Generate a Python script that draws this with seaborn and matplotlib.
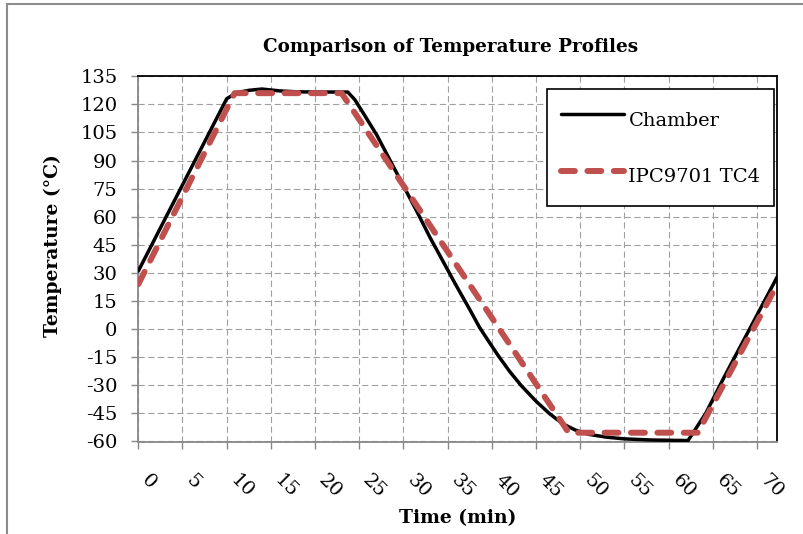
import matplotlib
matplotlib.use("Agg")
import matplotlib.pyplot as plt
import seaborn as sns
import pandas as pd
from matplotlib.patches import Rectangle

# ---- data ----
time_chamber = [0, 10, 11.1, 12.5, 14, 16, 18, 21, 23.7, 24.5, 25.5, 27, 28.5, 30, 31.5,
                33, 34.5, 36, 37.5, 38.6, 39.5, 40.7, 42, 43.3, 45, 46.5, 48, 49.5, 51,
                53, 55, 58, 62.2, 64.2, 66.3, 68.6, 72.3]
temp_chamber = [31, 123, 126.2, 127.5, 128.2, 127.2, 126.7, 126.6, 126.6, 122.5, 115,
                103.5, 90, 76.5, 63, 49, 36, 23, 10.5, 1, -5.5, -14, -22.5, -30, -38.5,
                -45, -50.5, -54, -56.2, -57.7, -58.6, -59.2, -59.5, -45, -25.5, -5, 28]
time_tc4 = [0, 10.9, 23.0, 48.7, 63.3, 72.3]
temp_tc4 = [24, 126, 126, -55.3, -55.3, 24]

series_names = ["Chamber", "IPC9701 TC4"]
x_ticks = list(range(0, 71, 5))
y_ticks = list(range(-60, 136, 15))

title = "Comparison of Temperature Profiles"
xlabel = "Time (min)"
ylabel = "Temperature (°C)"

sns.set_theme(style="white")
plt.rcParams['font.family'] = ['DejaVu Serif']
plt.rcParams['lines.scale_dashes'] = False
for key in ["text.color", "axes.labelcolor", "xtick.color", "ytick.color"]:
    plt.rcParams[key] = "black"

W, H = 804, 534
fig = plt.figure(figsize=(W / 100, H / 100), dpi=100)
ax = fig.add_axes([138.3 / W, 1 - 441.5 / H, (777.3 - 138.3) / W, (441.5 - 76.3) / H])

df_ch = pd.DataFrame({"t": time_chamber, "T": temp_chamber})
df_tc = pd.DataFrame({"t": time_tc4, "T": temp_tc4})

sns.lineplot(data=df_ch, x="t", y="T", ax=ax, color="black", linewidth=2.5,
             sort=False, estimator=None, label=series_names[0], zorder=3)
sns.lineplot(data=df_tc, x="t", y="T", ax=ax, color="#C0504D", linewidth=4.3,
             sort=False, estimator=None, label=series_names[1], zorder=4)
l_ch, l_tc = ax.get_lines()[0], ax.get_lines()[1]
l_ch.set_solid_capstyle("round")
l_ch.set_solid_joinstyle("round")
l_tc.set_dashes((10, 9))
l_tc.set_dash_capstyle("round")

ax.set_xlim(0, 72.3)
ax.set_ylim(-60, 135)
ax.set_xticks(x_ticks)
ax.set_yticks(y_ticks)
ax.set_xticklabels([str(v) for v in x_ticks], rotation=-45, ha="left", va="top",
                   fontsize=14)
ax.set_yticklabels([str(v) for v in y_ticks], fontsize=14)

ax.grid(True, color="#a0a0a0", linewidth=0.8, dashes=(4.5, 2.5))
ax.set_axisbelow(True)

ax.tick_params(axis="y", direction="out", length=5, width=1, color="#888888", pad=10,
               left=True, labelcolor="black")
ax.tick_params(axis="x", direction="out", length=5, width=1, color="#888888", pad=16,
               bottom=True, labelcolor="black")
for side in ["left", "bottom"]:
    ax.spines[side].set_color("#888888")
    ax.spines[side].set_linewidth(1.3)
for side in ["top", "right"]:
    ax.spines[side].set_color("black")
    ax.spines[side].set_linewidth(1.3)

ax.set_xlabel(xlabel, fontsize=13.5, fontweight="bold", color="black")
ax.set_ylabel(ylabel, fontsize=13.5, fontweight="bold", color="black")
ax.xaxis.set_label_coords(0.5, -0.186)
ax.yaxis.set_label_coords(-0.119, 0.537)

leg = ax.legend(loc="upper right", bbox_to_anchor=(0.9955, 0.9644), borderaxespad=0,
                fontsize=14, frameon=True, fancybox=False, framealpha=1,
                edgecolor="black", handlelength=3.2, handletextpad=0.25,
                handleheight=2.2, labelspacing=1.22, borderpad=0.72)
leg.get_frame().set_linewidth(1.2)
for t in leg.get_texts():
    t.set_color("black")

fig.text(451 / W, 1 - 47 / H, title, ha="center", va="center", fontsize=13.2,
         fontweight="bold", color="black")

fig.patches.append(Rectangle((7 / W, -0.05), 1.2, 1 - 4 / H + 0.05,
                             transform=fig.transFigure, fill=False,
                             edgecolor="#8c8c8c", linewidth=1.5, zorder=0))

fig.savefig("out.png", dpi=100)
